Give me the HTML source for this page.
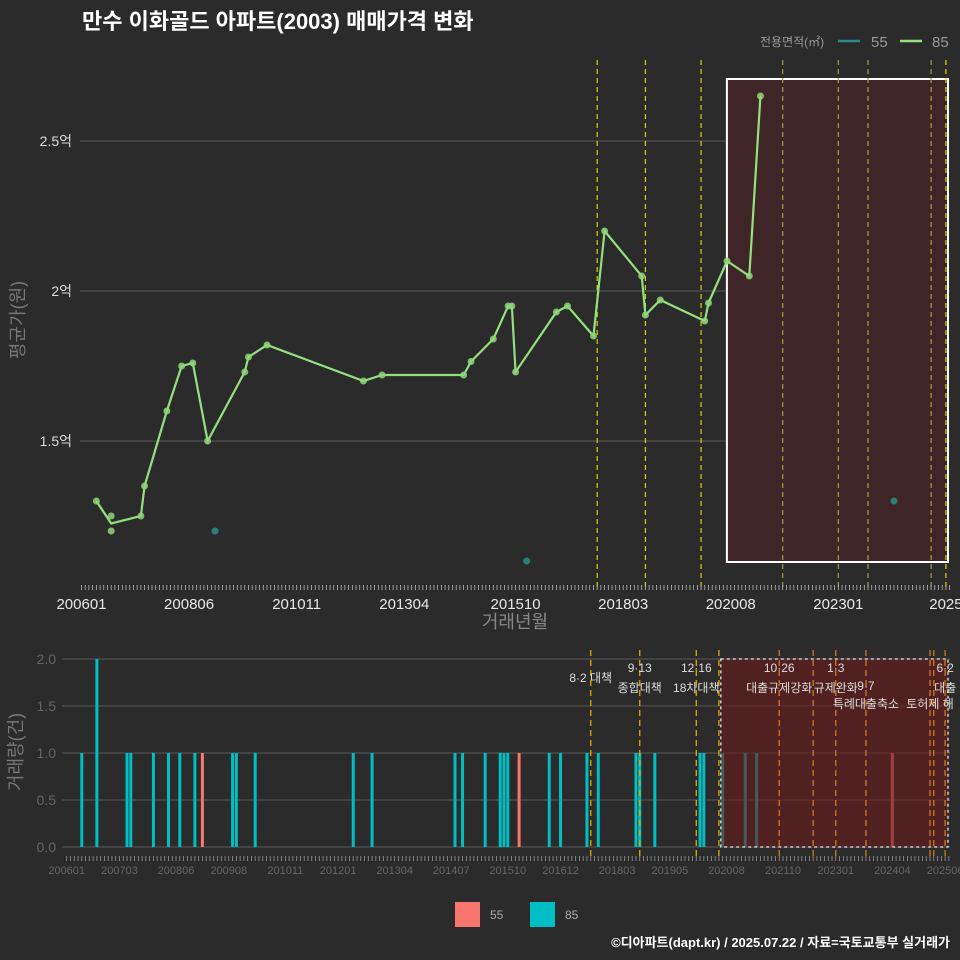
<!DOCTYPE html>
<html><head><meta charset="utf-8"><style>
body{margin:0;background:#2b2b2b;}
svg{display:block;font-family:"Liberation Sans","Noto Sans CJK KR",sans-serif;}
</style></head><body>
<svg id="c" width="960" height="960" viewBox="0 0 960 960" xmlns="http://www.w3.org/2000/svg">
<rect width="960" height="960" fill="#2b2b2b"/>
<text x="82" y="29" fill="#fff" font-size="22" font-weight="bold">만수 이화골드 아파트(2003) 매매가격 변화</text>
<g>
<text x="760" y="46" fill="#999" font-size="12">전용면적(㎡)</text>
<line x1="838" y1="41" x2="860" y2="41" stroke="#2a8a88" stroke-width="2.5"/>
<text x="871" y="47" fill="#999" font-size="15">55</text>
<line x1="900" y1="41" x2="922" y2="41" stroke="#95e07e" stroke-width="2.5"/>
<text x="932" y="47" fill="#999" font-size="15">85</text>
</g>
<g id="topg"></g>
<g id="botg"></g>
<g>
<rect x="455" y="902" width="25" height="25" fill="#f8766d"/>
<text x="490" y="919" fill="#aaa" font-size="12">55</text>
<rect x="530" y="902" width="25" height="25" fill="#00bfc4"/>
<text x="565" y="919" fill="#aaa" font-size="12">85</text>
</g>
<text x="950" y="947" fill="#fff" font-size="13" font-weight="bold" text-anchor="end">©디아파트(dapt.kr) / 2025.07.22 / 자료=국토교통부 실거래가</text>
</svg>
<script>
// data: months since 2006-01
const months85 = [4,8,8,16,17,23,27,30,34,44,45,50,76,81,103,105,111,115,116,117,128,131,138,141,151,152,156,168,169,174,180,183];
const prices85 = [1.30,1.25,1.20,1.25,1.35,1.60,1.75,1.76,1.50,1.73,1.78,1.82,1.70,1.72,1.72,1.765,1.84,1.95,1.95,1.73,1.93,1.95,1.85,2.20,2.05,1.92,1.97,1.90,1.96,2.10,2.05,2.65];
const months55 = [36,120,219];
const prices55 = [1.20,1.10,1.30];
const topTickLabels = ["200601","200806","201011","201304","201510","201803","202008","202301","2025"];
const topTickMonths = [0,29,58,87,117,146,175,204,233];
const botTickLabels = ["200601","200703","200806","200908","201011","201201","201304","201407","201510","201612","201803","201905","202008","202110","202301","202404","202506"];
const botTickMonths = [0,14,29,43,58,72,87,102,117,131,146,160,175,190,204,219,233];
const priceTicks = [1.5,2.0,2.5];
const priceTickLabels = ["1.5억","2억","2.5억"];
const countTicks = [0,0.5,1,1.5,2];
const countTickLabels = ["0.0","0.5","1.0","1.5","2.0"];
const policyMonths = [139,152,167,189,204,212,229,233];
const policyTop = ["8·2 대책","9·13","12·16","10·26","1·3","","","6·2"];
const policyBottom = ["","종합대책","18차대책","대출규제강화","규제완화","9·7","",'대출'];
const policyThird = ["","","","","","특례대출축소","토허제 해",""];
const extraBotLines = [173,198,230];
const shadeStart = 174.5;

const NS="http://www.w3.org/2000/svg";
function el(p,t,a){const e=document.createElementNS(NS,t);for(const k in a)e.setAttribute(k,a[k]);p.appendChild(e);return e;}
const xT=m=>81.5+m*3.71, yT=v=>291-(v-2)*300;
const xB=m=>66.7+m*3.77, yB=c=>847-c*94;
const topG=document.getElementById('topg'), botG=document.getElementById('botg');

priceTicks.forEach((v,i)=>{
 let g=el(topG,'line',{x1:80,x2:950,y1:yT(v),y2:yT(v),stroke:'#5a5a5a','stroke-width':1});
 
 
 let t=el(topG,'text',{x:72,y:yT(v)+5,fill:'#ddd','font-size':14,'text-anchor':'end'});t.textContent=priceTickLabels[i];
 
 
});
let sh=el(topG,'rect',{x:xT(shadeStart)-2,y:79,width:948-xT(shadeStart)+2,height:483,fill:'#3f2527',stroke:'#fff','stroke-width':2});


policyMonths.forEach((m,i)=>{
 let l=el(topG,'line',{x1:xT(m),x2:xT(m),y1:60,y2:590,stroke:(m>174?'#a8a040':'#d4d400'),'stroke-width':1.2,'stroke-dasharray':'5,4'});
 if(m==233)l.setAttribute('stroke','#e6d800');
 
 
});
for(let m=0;m<=234;m++){
 let l=el(topG,'line',{x1:xT(m),x2:xT(m),y1:585,y2:590,stroke:'#bbb','stroke-width':0.8});
 
 
}
topTickLabels.forEach((s,i)=>{
 let t=el(topG,'text',{x:xT(topTickMonths[i]),y:609,fill:'#e8e8e8','font-size':15,'text-anchor':'middle'});t.textContent=s;
 
 
});
let xt=el(topG,'text',{x:515,y:628,fill:'#888','font-size':18,'text-anchor':'middle'});xt.textContent='거래년월';


let yt=el(topG,'text',{x:0,y:0,fill:'#777','font-size':18,'text-anchor':'middle',transform:'translate(24,320) rotate(-90)'});yt.textContent='평균가(원)';


const uniq=[...new Set(months85)];
const pts=uniq.map(m=>{const vs=prices85.filter((v,i)=>months85[i]===m);return [xT(m),yT(vs.reduce((a,b)=>a+b,0)/vs.length)];});
let pl=el(topG,'polyline',{points:pts.map(p=>p.join(',')).join(' '),fill:'none',stroke:'#95e07e','stroke-width':2.2});


months85.forEach((m,i)=>{
 let c=el(topG,'circle',{cx:xT(m),cy:yT(prices85[i]),r:3.5,fill:'#8fd67a','fill-opacity':0.85});
 
 
});
months55.forEach((m,i)=>{
 let c=el(topG,'circle',{cx:xT(m),cy:yT(prices55[i]),r:3.5,fill:'#2a7f7a'});
 
 
});

countTicks.forEach((v,i)=>{
 let g=el(botG,'line',{x1:62,x2:950,y1:yB(v),y2:yB(v),stroke:'#5a5a5a','stroke-width':1});
 
 
 let t=el(botG,'text',{x:56,y:yB(v)+5,fill:'#666','font-size':14,'text-anchor':'end'});t.textContent=countTickLabels[i];
 
 
});
let yt2=el(botG,'text',{x:0,y:0,fill:'#777','font-size':18,'text-anchor':'middle',transform:'translate(22,752) rotate(-90)'});yt2.textContent='거래량(건)';


function bars(ms,color,name){
 const u=[...new Set(ms)];
 u.forEach(m=>{const c=ms.filter(x=>x===m).length;
  let r=el(botG,'rect',{x:xB(m)-1.5,y:yB(c),width:3,height:yB(0)-yB(c),fill:color});
  
  
 });
}
bars(months85,'#00bfc4','bar-85');
bars(months55,'#f8766d','bar-55');
let sh2=el(botG,'rect',{x:xB(173.5),y:659,width:948-xB(173.5),height:188,fill:'#6a1a1a','fill-opacity':0.6,stroke:'#ccc','stroke-width':1.5,'stroke-dasharray':'3,3'});


policyMonths.concat(extraBotLines).forEach(m=>{
 let l=el(botG,'line',{x1:xB(m),x2:xB(m),y1:650,y2:860,stroke:(m>174?'#d07a20':'#e0a800'),'stroke-width':1.3,'stroke-dasharray':'6,4'});
 
 
});
policyMonths.forEach((m,i)=>{
 [[policyTop[i],i===0?682:672],[policyBottom[i],i==5?690:692],[policyThird[i],708]].forEach(([s,y])=>{
  if(!s)return;
  let t=el(botG,'text',{x:xB(m),y:y,fill:'#ddd','font-size':12,'text-anchor':'middle'});t.textContent=s;
  
  
 });
});
for(let m=0;m<=234;m++){
 let l=el(botG,'line',{x1:xB(m),x2:xB(m),y1:856,y2:861,stroke:'#999','stroke-width':0.8});
 
 
}
botTickLabels.forEach((s,i)=>{
 let t=el(botG,'text',{x:xB(botTickMonths[i]),y:874,fill:'#666','font-size':11,'text-anchor':'middle'});t.textContent=s;
 
 
});
</script>
</body></html>
